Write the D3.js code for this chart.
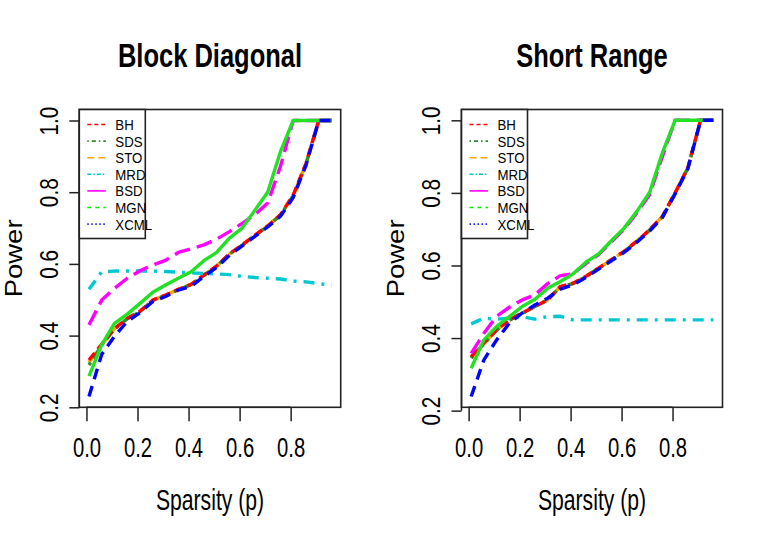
<!DOCTYPE html>
<html>
<head>
<meta charset="utf-8">
<script src="https://cdn.jsdelivr.net/npm/d3@7"></script>
<style>
  body { margin: 0; background: #fff; }
  svg { display: block; }
  text { font-family: "Liberation Sans", Arial, Helvetica, sans-serif; fill: #000; }
</style>
</head>
<body>
<div id="chart"></div>
<script>
// sparsity levels on the x axis
const sparsity = [0.01, 0.06, 0.11, 0.16, 0.21, 0.26, 0.31, 0.36, 0.41, 0.46,
                  0.51, 0.56, 0.61, 0.66, 0.71, 0.76, 0.81, 0.86, 0.91, 0.96];
const methods = ["BH", "SDS", "STO", "MRD", "BSD", "MGN", "XCML"];
const xTicks = [0, 0.2, 0.4, 0.6, 0.8];
const yTicks = [0.2, 0.4, 0.6, 0.8, 1.0];

// Block Diagonal
const bdBH   = [0.332, 0.376, 0.420, 0.448, 0.468, 0.499, 0.513, 0.529, 0.543, 0.569, 0.594, 0.628, 0.653, 0.680, 0.706, 0.737, 0.792, 0.880, 1.0, 1.0];
const bdSDS  = [0.318, 0.374, 0.418, 0.447, 0.467, 0.498, 0.512, 0.528, 0.542, 0.568, 0.593, 0.627, 0.652, 0.679, 0.705, 0.736, 0.790, 0.878, 1.0, 1.0];
const bdSTO  = [0.325, 0.375, 0.419, 0.448, 0.468, 0.499, 0.513, 0.529, 0.543, 0.569, 0.594, 0.628, 0.653, 0.680, 0.706, 0.737, 0.791, 0.879, 1.0, 1.0];
const bdMRD  = [0.529, 0.578, 0.580, 0.580, 0.580, 0.580, 0.579, 0.577, 0.575, 0.573, 0.572, 0.570, 0.565, 0.562, 0.560, 0.558, 0.552, 0.550, 0.545, 0.540];
const bdBSD  = [0.430, 0.499, 0.532, 0.560, 0.581, 0.597, 0.610, 0.632, 0.642, 0.653, 0.669, 0.690, 0.713, 0.737, 0.770, 0.872, 1.0, 1.0, 1.0, 1.0];
const bdMGN  = [0.287, 0.375, 0.434, 0.460, 0.490, 0.521, 0.541, 0.560, 0.578, 0.609, 0.632, 0.672, 0.700, 0.750, 0.800, 0.913, 1.0, 1.0, 1.0, 1.0];
const bdXCML = [0.230, 0.348, 0.398, 0.440, 0.464, 0.495, 0.509, 0.527, 0.537, 0.565, 0.590, 0.624, 0.650, 0.677, 0.703, 0.733, 0.785, 0.875, 1.0, 1.0];

// Short Range
const srBH   = [0.349, 0.386, 0.423, 0.450, 0.469, 0.487, 0.505, 0.542, 0.551, 0.570, 0.593, 0.616, 0.639, 0.667, 0.698, 0.735, 0.800, 0.869, 1.0, 1.0];
const srSDS  = [0.345, 0.384, 0.422, 0.449, 0.468, 0.487, 0.505, 0.541, 0.550, 0.569, 0.592, 0.615, 0.638, 0.666, 0.697, 0.734, 0.799, 0.868, 1.0, 1.0];
const srSTO  = [0.347, 0.385, 0.423, 0.450, 0.469, 0.487, 0.505, 0.542, 0.551, 0.570, 0.593, 0.616, 0.639, 0.667, 0.698, 0.735, 0.800, 0.869, 1.0, 1.0];
const srMRD  = [0.439, 0.455, 0.452, 0.455, 0.459, 0.452, 0.459, 0.460, 0.450, 0.450, 0.450, 0.450, 0.450, 0.450, 0.450, 0.450, 0.450, 0.450, 0.450, 0.450];
const srBSD  = [0.358, 0.413, 0.460, 0.485, 0.505, 0.519, 0.550, 0.572, 0.577, 0.605, 0.630, 0.665, 0.700, 0.745, 0.795, 0.900, 1.0, 1.0, 1.0, 1.0];
const srMGN  = [0.317, 0.395, 0.432, 0.459, 0.487, 0.507, 0.537, 0.556, 0.577, 0.609, 0.632, 0.668, 0.703, 0.749, 0.801, 0.910, 1.0, 1.0, 1.0, 1.0];
const srXCML = [0.239, 0.340, 0.395, 0.441, 0.469, 0.491, 0.510, 0.535, 0.547, 0.567, 0.590, 0.613, 0.636, 0.664, 0.695, 0.732, 0.797, 0.866, 1.0, 1.0];

// line looks: in the plot (thick) and in the legend (thin, different lty like the original)
const plotStyle = {
  BH:   { color: "#ff0000", dash: "9,5" },
  SDS:  { color: "#2e8b2e", dash: "3,5,10,5" },
  STO:  { color: "#ffa500", dash: "12,6" },
  MRD:  { color: "#00c8d2", dash: "11,7,3,7" },
  BSD:  { color: "#ff00ff", dash: "16,7" },
  MGN:  { color: "#22e022", dash: null },
  XCML: { color: "#0000ff", dash: "11,7" }
};
const legendStyle = {
  BH:   { color: "#ff0000", dash: "4,3" },
  SDS:  { color: "#2e8b2e", dash: "1.5,3,4,3" },
  STO:  { color: "#ffa500", dash: "7,4" },
  MRD:  { color: "#00c8d2", dash: "4,2,1.5,2" },
  BSD:  { color: "#ff00ff", dash: null },
  MGN:  { color: "#00ee00", dash: "4,4" },
  XCML: { color: "#2020ff", dash: "1.5,2.5" }
};
// drawing order of the curves (the BH curve sits above STO and SDS)
const drawOrder = ["STO", "SDS", "BH", "MRD", "BSD", "MGN", "XCML"];

const panels = [
  { title: "Block Diagonal", series: [bdBH, bdSDS, bdSTO, bdMRD, bdBSD, bdMGN, bdXCML],
    left: 79.3, right: 340.7, yLow: 0.2, yHigh: 1.0307 },
  { title: "Short Range", series: [srBH, srSDS, srSTO, srMRD, srBSD, srMGN, srXCML],
    left: 461.5, right: 722.5, yLow: 0.2092, yHigh: 1.0298 }
];
const plotTop = 109.5, plotBottom = 407.3;

const svg = d3.select("#chart").append("svg")
    .attr("width", 763)
    .attr("height", 545);

// text in the original is narrow; squeeze it horizontally
function label(g, txt, x, y, size, k, rotate, bold) {
    return g.append("text")
        .attr("transform", `translate(${x},${y})` + (rotate ? " rotate(-90)" : "") + ` scale(${k},1)`)
        .attr("text-anchor", "middle")
        .style("font-size", size + "px")
        .style("font-weight", bold ? "bold" : "normal")
        .text(txt);
}

panels.forEach(p => {
    const g = svg.append("g");
    const x = d3.scaleLinear().domain([-0.028, 0.996]).range([p.left, p.right]);
    const y = d3.scaleLinear().domain([p.yLow, p.yHigh]).range([plotBottom, plotTop]);
    const cx = (p.left + p.right) / 2;

    // curves
    const line = d3.line()
        .x((d, i) => x(sparsity[i]))
        .y(d => y(d));
    drawOrder.forEach(m => {
        const st = plotStyle[m];
        g.append("path")
            .datum(p.series[methods.indexOf(m)])
            .attr("d", line)
            .attr("fill", "none")
            .attr("stroke", st.color)
            .attr("stroke-width", 3.4)
            .attr("stroke-dasharray", st.dash)
            .attr("stroke-linejoin", "round");
    });

    // box
    g.append("rect")
        .attr("x", p.left).attr("y", plotTop)
        .attr("width", p.right - p.left).attr("height", plotBottom - plotTop)
        .attr("fill", "none").attr("stroke", "#222").attr("stroke-width", 1.6);

    // x axis
    const xa = g.append("g")
        .attr("transform", `translate(0,${plotBottom})`)
        .call(d3.axisBottom(x).tickValues(xTicks).tickSize(14).tickSizeOuter(0).tickFormat(d3.format(".1f")));
    xa.select(".domain").remove();
    xa.selectAll("line").attr("stroke", "#222").attr("stroke-width", 1.5);
    xa.selectAll("text")
        .attr("y", 0).attr("dy", 0)
        .attr("fill", "#000")
        .attr("transform", "translate(0,49.4) scale(0.75,1)")
        .style("font-size", "27px")
        .style("font-family", "Liberation Sans, Arial, sans-serif");
    g.append("line")
        .attr("x1", x(xTicks[0])).attr("x2", x(xTicks[xTicks.length - 1]))
        .attr("y1", plotBottom).attr("y2", plotBottom)
        .attr("stroke", "#222").attr("stroke-width", 1.5);

    // y axis
    const ya = g.append("g")
        .attr("transform", `translate(${p.left},0)`)
        .call(d3.axisLeft(y).tickValues(yTicks).tickSize(10).tickSizeOuter(0).tickFormat(d3.format(".1f")));
    ya.select(".domain").remove();
    ya.selectAll("line").attr("stroke", "#222").attr("stroke-width", 1.5);
    ya.selectAll("text")
        .attr("x", 0).attr("dy", 0)
        .attr("fill", "#000")
        .attr("text-anchor", "middle")
        .attr("transform", "translate(-21.3,0) rotate(-90) scale(0.83,1)")
        .style("font-size", "25px")
        .style("font-family", "Liberation Sans, Arial, sans-serif");
    g.append("line")
        .attr("x1", p.left).attr("x2", p.left)
        .attr("y1", y(yTicks[0])).attr("y2", y(yTicks[yTicks.length - 1]))
        .attr("stroke", "#222").attr("stroke-width", 1.5);

    // titles
    label(g, p.title, cx, 67, 34, 0.75, false, true);
    label(g, "Sparsity (p)", cx, 510, 29, 0.73, false, false);
    label(g, "Power", p.left - 57.8, (plotTop + plotBottom) / 2, 23.5, 1.17, true, false);

    // legend
    const lg = g.append("g").attr("transform", `translate(${p.left},${plotTop})`);
    lg.append("rect")
        .attr("width", 66).attr("height", 129)
        .attr("fill", "#fff").attr("stroke", "#222").attr("stroke-width", 1.6);
    methods.forEach((m, i) => {
        const ly = 15 + i * 16.6;
        const st = legendStyle[m];
        lg.append("line")
            .attr("x1", 8).attr("x2", 26.5)
            .attr("y1", ly).attr("y2", ly)
            .attr("stroke", st.color).attr("stroke-width", 1.6)
            .attr("stroke-dasharray", st.dash);
        lg.append("text")
            .attr("transform", `translate(36,${ly + 5.5}) scale(0.92,1)`)
            .style("font-size", "14.4px")
            .text(m);
    });
});
</script>
</body>
</html>
